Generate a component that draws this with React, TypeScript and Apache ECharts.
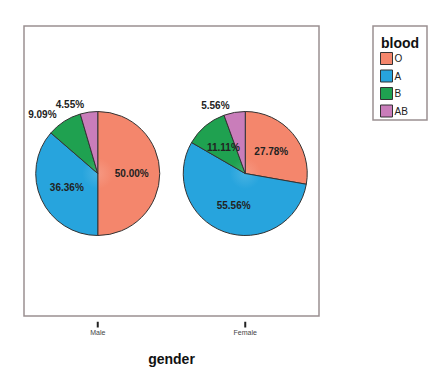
import React, { useEffect, useRef } from "react";
import * as echarts from "echarts";

const genders = ["Male", "Female"];
const bloodTypes = ["O", "A", "B", "AB"];
const malePct = [50.0, 36.36, 9.09, 4.55];
const femalePct = [27.78, 55.56, 11.11, 5.56];
const colors = ["#F4866C", "#27A4DD", "#1FA150", "#C97DBA"];

// label nudges for the small slices (from the inside position)
const labelNudges: Record<string, Record<number, [number, number]>> = {
  Male: { 2: [-37, -30], 3: [-23, -35] },
  Female: { 3: [-24, -35] },
};

const FONT = "'Liberation Sans', Arial, Helvetica, sans-serif";

export default function App() {
  const ref = useRef<HTMLDivElement>(null);
  useEffect(() => {
    if (!ref.current) return;
    const chart = echarts.init(ref.current, null, { renderer: "svg" });
    const grid = { left: 24, top: 26, width: 295, height: 295 };
    const cy = grid.top + grid.height / 2;
    const bottom = grid.top + grid.height;
    const centersX = genders.map(
      (_, i) => grid.left + (grid.width / genders.length) * (i + 0.5)
    );
    const radius = 62;
    const lighten = (c: string) => {
      const n = parseInt(c.slice(1), 16);
      const r = (n >> 16) & 255, g = (n >> 8) & 255, b = n & 255;
      const m = (v: number) => Math.round(v + (255 - v) * 0.15);
      return `rgb(${m(r)},${m(g)},${m(b)})`;
    };
    const mkSeries = (name: string, vals: number[], idx: number) => ({
      type: "pie",
      name,
      center: [centersX[idx], cy],
      radius: [0, radius],
      startAngle: 90,
      clockwise: true,
      silent: true,
      label: {
        show: true,
        position: "inside",
        formatter: (p: any) => p.value.toFixed(2) + "%",
        fontFamily: FONT,
        fontSize: 10,
        fontWeight: "bold",
        color: "#222",
      },
      labelLine: { show: false },
      labelLayout: (p: any) => {
        const n = labelNudges[name][p.dataIndex];
        return n ? { dx: n[0], dy: n[1] } : {};
      },
      itemStyle: { borderColor: "#333", borderWidth: 1 },
      data: bloodTypes.map((b, i) => ({
        name: b,
        value: vals[i],
        itemStyle: {
          color: new echarts.graphic.RadialGradient(
            centersX[idx],
            cy,
            radius,
            [
              { offset: 0, color: lighten(colors[i]) },
              { offset: 0.25, color: colors[i] },
              { offset: 1, color: colors[i] },
            ],
            true
          ),
        },
      })),
    });
    chart.setOption({
      animation: false,
      color: colors,
      grid: {
        ...grid,
        show: true,
        borderColor: "#9a9091",
        borderWidth: 1.5,
        backgroundColor: "transparent",
      },
      xAxis: {
        type: "category",
        data: genders,
        boundaryGap: true,
        axisLine: { show: false },
        axisTick: { show: false },
        axisLabel: { fontFamily: FONT, fontSize: 7, color: "#444", margin: 13, interval: 0 },
        name: "gender",
        nameLocation: "middle",
        nameGap: 36,
        nameTextStyle: {
          fontFamily: FONT,
          fontSize: 14,
          fontWeight: "bold",
          color: "#111",
        },
      },
      yAxis: { type: "value", show: false, min: 0, max: 1 },
      legend: {
        orient: "vertical",
        left: 380,
        top: 52,
        padding: 0,
        itemWidth: 12,
        itemHeight: 12,
        itemGap: 4.5,
        icon: "rect",
        data: bloodTypes,
        itemStyle: { borderColor: "#333", borderWidth: 1 },
        textStyle: { fontFamily: FONT, fontSize: 10, color: "#222", padding: [0, 0, 0, -3] },
        selectedMode: false,
      },
      graphic: [
        {
          type: "rect",
          shape: { x: 373, y: 26, width: 54, height: 94 },
          style: { fill: "#fff", stroke: "#9a9091", lineWidth: 1.5 },
          z: -1,
        },
        {
          type: "text",
          x: 381,
          y: 43,
          style: {
            text: "blood",
            fontFamily: FONT,
            fontSize: 14,
            fontWeight: "bold",
            fill: "#111",
            verticalAlign: "middle",
          },
        },
        ...centersX.map((x) => ({
          type: "line",
          shape: { x1: x, y1: bottom + 0.75, x2: x, y2: bottom + 6.5 },
          style: { stroke: "#222", lineWidth: 2 },
        })),
      ],
      series: [mkSeries("Male", malePct, 0), mkSeries("Female", femalePct, 1)],
    });
    return () => chart.dispose();
  }, []);
  return <div ref={ref} style={{ width: 440, height: 371, position: "absolute", left: 0, top: 0 }} />;
}
